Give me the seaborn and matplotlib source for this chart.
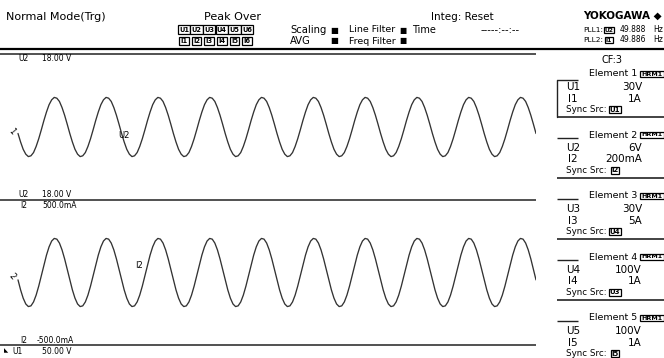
import numpy as np
import pandas as pd
import matplotlib
matplotlib.use("Agg")
import matplotlib.pyplot as plt
import seaborn as sns

time_ms = np.arange(0, 201)  # 1 ms sample clock, 200 ms window

u2_volts = [
    -1.6, -3.7, -5.5, -6.7, -7.3, -7.1, -6.3, -4.8, -2.9, -0.7, 1.6, 3.7, 5.5, 6.7, 7.3, 7.1, 6.3, 4.8, 2.9, 0.7,
    -1.6, -3.7, -5.5, -6.7, -7.3, -7.1, -6.3, -4.8, -2.9, -0.7, 1.6, 3.7, 5.5, 6.7, 7.3, 7.1, 6.3, 4.8, 2.9, 0.7,
    -1.6, -3.7, -5.5, -6.7, -7.3, -7.1, -6.3, -4.8, -2.9, -0.7, 1.6, 3.7, 5.5, 6.7, 7.3, 7.1, 6.3, 4.8, 2.9, 0.7,
    -1.6, -3.7, -5.5, -6.7, -7.3, -7.1, -6.3, -4.8, -2.9, -0.7, 1.6, 3.7, 5.5, 6.7, 7.3, 7.1, 6.3, 4.8, 2.9, 0.7,
    -1.6, -3.7, -5.5, -6.7, -7.3, -7.1, -6.3, -4.8, -2.9, -0.7, 1.6, 3.7, 5.5, 6.7, 7.3, 7.1, 6.3, 4.8, 2.9, 0.7,
    -1.6, -3.7, -5.5, -6.7, -7.3, -7.1, -6.3, -4.8, -2.9, -0.7, 1.6, 3.7, 5.5, 6.7, 7.3, 7.1, 6.3, 4.8, 2.9, 0.7,
    -1.6, -3.7, -5.5, -6.7, -7.3, -7.1, -6.3, -4.8, -2.9, -0.7, 1.6, 3.7, 5.5, 6.7, 7.3, 7.1, 6.3, 4.8, 2.9, 0.7,
    -1.6, -3.7, -5.5, -6.7, -7.3, -7.1, -6.3, -4.8, -2.9, -0.7, 1.6, 3.7, 5.5, 6.7, 7.3, 7.1, 6.3, 4.8, 2.9, 0.7,
    -1.6, -3.7, -5.5, -6.7, -7.3, -7.1, -6.3, -4.8, -2.9, -0.7, 1.6, 3.7, 5.5, 6.7, 7.3, 7.1, 6.3, 4.8, 2.9, 0.7,
    -1.6, -3.7, -5.5, -6.7, -7.3, -7.1, -6.3, -4.8, -2.9, -0.7, 1.6, 3.7, 5.5, 6.7, 7.3, 7.1, 6.3, 4.8, 2.9, 0.7,
    -1.6,
]

i2_ma = [
    -51, -120, -177, -217, -235, -230, -203, -156, -94, -22, 51, 120, 177, 217, 235, 230, 203, 156, 94, 22,
    -51, -120, -177, -217, -235, -230, -203, -156, -94, -22, 51, 120, 177, 217, 235, 230, 203, 156, 94, 22,
    -51, -120, -177, -217, -235, -230, -203, -156, -94, -22, 51, 120, 177, 217, 235, 230, 203, 156, 94, 22,
    -51, -120, -177, -217, -235, -230, -203, -156, -94, -22, 51, 120, 177, 217, 235, 230, 203, 156, 94, 22,
    -51, -120, -177, -217, -235, -230, -203, -156, -94, -22, 51, 120, 177, 217, 235, 230, 203, 156, 94, 22,
    -51, -120, -177, -217, -235, -230, -203, -156, -94, -22, 51, 120, 177, 217, 235, 230, 203, 156, 94, 22,
    -51, -120, -177, -217, -235, -230, -203, -156, -94, -22, 51, 120, 177, 217, 235, 230, 203, 156, 94, 22,
    -51, -120, -177, -217, -235, -230, -203, -156, -94, -22, 51, 120, 177, 217, 235, 230, 203, 156, 94, 22,
    -51, -120, -177, -217, -235, -230, -203, -156, -94, -22, 51, 120, 177, 217, 235, 230, 203, 156, 94, 22,
    -51, -120, -177, -217, -235, -230, -203, -156, -94, -22, 51, 120, 177, 217, 235, 230, 203, 156, 94, 22,
    -51,
]

u_range_v = 18.0
i_range_ma = 500.0

element_names = ["Element 1", "Element 2", "Element 3", "Element 4", "Element 5"]
element_u_labels = ["U1", "U2", "U3", "U4", "U5"]
element_u_ranges = ["30V", "6V", "30V", "100V", "100V"]
element_i_labels = ["I1", "I2", "I3", "I4", "I5"]
element_i_ranges = ["1A", "200mA", "5A", "1A", "1A"]
element_sync = ["U1", "I2", "U4", "U3", "I5"]

peak_u = ["U1", "U2", "U3", "U4", "U5", "U6"]
peak_i = ["I1", "I2", "I3", "I4", "I5", "I6"]

pll_src = ["U2", "I1"]
pll_freq = ["49.888", "49.886"]

# ---------------- figure ----------------
sns.set_style("white")
plt.rcParams["font.family"] = ["DejaVu Sans"]

W, H = 664, 358
fig = plt.figure(figsize=(W / 100, H / 100), dpi=100)
fig.patch.set_facecolor("white")

TRACE = "#333333"

def wave_axes(top_px, bot_px):
    ax = fig.add_axes([0, 1 - bot_px / H, 536 / W, (bot_px - top_px) / H])
    ax.set_axis_off()
    ax.set_xlim(-6.95, 200)
    return ax

ax_u = wave_axes(54, 200)
df_u = pd.DataFrame({"t": time_ms, "v": u2_volts})
sns.lineplot(data=df_u, x="t", y="v", ax=ax_u, color=TRACE, linewidth=0.95)
ax_u.set_ylim(-u_range_v, u_range_v)
ax_u.set_axis_off()

ax_i = wave_axes(200, 345)
df_i = pd.DataFrame({"t": time_ms, "i": i2_ma})
sns.lineplot(data=df_i, x="t", y="i", ax=ax_i, color=TRACE, linewidth=0.95)
ax_i.set_ylim(-i_range_ma, i_range_ma)
ax_i.set_axis_off()

# overlay in pixel coordinates for screen furniture
ov = fig.add_axes([0, 0, 1, 1])
ov.set_xlim(0, W)
ov.set_ylim(H, 0)
ov.set_axis_off()
ov.patch.set_visible(False)

def T(x, y, s, size=8, ha="left", **kw):
    ov.text(x, y, s, fontsize=size, ha=ha, va="center", color="black", **kw)

def boxed(x, y, s, size=4.5, ha="center", fc="white", pad=0.15):
    ov.text(x, y, s, fontsize=size, ha=ha, va="center", color="black", fontweight="bold",
            bbox=dict(boxstyle=f"square,pad={pad}", fc=fc, ec="black", lw=0.9))

def hline(y, x0, x1, lw=1.2, color="#333333"):
    ov.plot([x0, x1], [y, y], color=color, lw=lw, solid_capstyle="butt")

# header
T(6, 17, "Normal Mode(Trg)", 8)
T(233, 17, "Peak Over", 8, ha="center")
for k, (u, i) in enumerate(zip(peak_u, peak_i)):
    boxed(184 + 12.6 * k, 29.5, u, 4.8, pad=0.18)
    boxed(184 + 12.6 * k, 41, i, 4.8, pad=0.18)
T(290, 30, "Scaling", 7.2)
T(330, 30, "■", 6)
T(290, 41, "AVG", 7.2)
T(330, 41, "■", 6)
T(349, 30, "Line Filter", 6.8)
T(399, 30, "■", 5.5)
T(349, 41, "Freq Filter", 6.8)
T(399, 41, "■", 5.5)
T(412, 30, "Time", 7)
T(431, 17, "Integ: Reset", 7.5)
T(481, 30, "-----:--:--", 7.2)
T(662, 16, "YOKOGAWA ◆", 7.5, ha="right", fontweight="bold")
for r, (src, fq) in enumerate(zip(pll_src, pll_freq)):
    y = 30 + 10 * r
    T(583, y, f"PLL{r + 1}:", 5.3)
    boxed(609, y, src, 4.3, pad=0.1)
    T(646, y, fq, 5.5, ha="right")
    T(663, y, "Hz", 5.5, ha="right")
hline(48.5, 0, W, lw=1.6, color="black")

# scope frame and labels
hline(54, 0, 536)
hline(200, 0, 536)
hline(345, 0, 536)
T(18, 58.5, "U2", 5.5)
T(42, 58.5, "18.00 V", 5.5)
T(18, 194.5, "U2", 5.5)
T(42, 194.5, "18.00 V", 5.5)
T(20, 205.5, "I2", 5.5)
T(42, 205.5, "500.0mA", 5.5)
T(20, 340.5, "I2", 5.5)
T(37, 340.5, "-500.0mA", 5.5)
T(4, 351, "◣", 4)
T(12, 351, "U1", 5.5)
T(42, 351, "50.00 V", 5.5)
T(12, 131, "1", 6, ha="center", rotation=-50)
T(12, 276, "2", 6, ha="center", rotation=-50)
T(118, 135, "U2", 6)
T(135, 265, "I2", 6)

# element panel
T(612, 60, "CF:3", 7, ha="center")
for n in range(5):
    t0 = 74 + 61 * n
    T(589, t0, element_names[n], 6.8)
    boxed(652, t0, "HRM1", 4.6, pad=0.15)
    T(566, t0 + 13, element_u_labels[n], 7.5)
    T(642, t0 + 13, element_u_ranges[n], 7.5, ha="right")
    T(568, t0 + 24.5, element_i_labels[n], 7.5)
    T(642, t0 + 24.5, element_i_ranges[n], 7.5, ha="right")
    T(566, t0 + 35.5, "Sync Src:", 6.3)
    boxed(615, t0 + 35.5, element_sync[n], 5, pad=0.1)
    hline(t0 + 42.5, 557, W, lw=1.2, color="#222222")
    if n == 0:
        hline(t0 + 6, 557, 578, lw=1.0, color="#222222")
        ov.plot([557, 557], [t0 + 6, t0 + 42.5], color="#222222", lw=1.0)
    else:
        hline(t0 + 3, 557, 578, lw=1.0, color="#222222")

fig.savefig("out.png", dpi=100, facecolor="white")
